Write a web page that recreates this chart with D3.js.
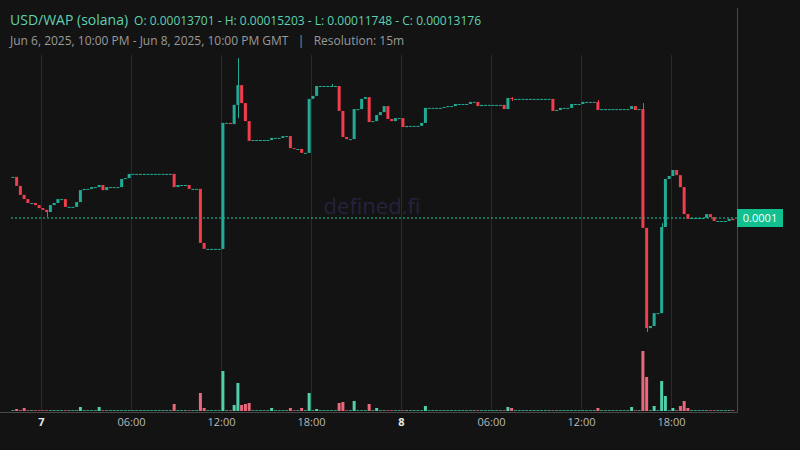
<!DOCTYPE html>
<html>
<head>
<meta charset="utf-8">
<script src="https://cdn.jsdelivr.net/npm/d3@7"></script>
<style>
  body { margin: 0; background: #131313; }
  svg { display: block; font-family: "Open Sans", "Noto Sans", sans-serif; }
</style>
</head>
<body>
<div id="chart"></div>
<script>
var width = 800, height = 450;

// 15m candles, Jun 6 22:00 -> Jun 8 22:00 GMT, prices in units of 1e-6
var closes = [
  113.7, 110.7, 107.7, 106.3, 105.0, 105.0, 104.3, 103.3, 102.7, 102.0,   // 0-9
  104.3, 105.0, 106.3, 106.3, 103.7, 103.7, 103.7, 105.3, 109.3, 109.7,   // 10-19
  109.7, 110.3, 110.3, 111.0, 109.3, 110.3, 110.3, 110.3, 110.3, 113.0,   // 20-29
  113.3, 114.7, 114.7, 114.7, 114.7, 114.7, 114.7, 114.7, 114.7, 114.7,   // 30-39
  114.7, 114.7, 114.7, 110.3, 111.0, 111.0, 111.0, 109.7, 109.7, 109.7,   // 40-49
  91.7, 89.7, 89.7, 89.7, 89.7, 89.7, 131.7, 131.7, 131.3, 137.7,         // 50-59
  144.3, 138.3, 132.3, 125.7, 126.0, 126.0, 126.0, 126.0, 126.0, 126.7,   // 60-69
  126.7, 126.7, 127.3, 127.3, 123.3, 123.0, 123.0, 121.7, 121.7, 139.7,   // 70-79
  140.7, 144.0, 144.0, 144.0, 144.0, 144.0, 144.0, 135.7, 127.0, 126.3,   // 80-89
  126.3, 136.3, 136.3, 139.7, 140.3, 132.0, 132.3, 134.3, 135.3, 137.3,   // 90-99
  133.0, 132.3, 133.3, 133.3, 130.3, 130.7, 130.7, 130.7, 130.7, 131.7,   // 100-109
  136.7, 136.7, 136.7, 136.7, 136.7, 137.0, 137.3, 137.3, 138.0, 138.0,   // 110-119
  138.0, 138.0, 138.7, 138.7, 137.3, 137.7, 137.7, 137.7, 137.7, 137.7,   // 120-129
  137.7, 136.3, 140.0, 139.7, 139.7, 139.7, 139.7, 139.7, 139.7, 139.7,   // 130-139
  139.7, 139.7, 139.7, 139.7, 135.7, 136.0, 136.7, 136.7, 136.7, 138.0,   // 140-149
  138.0, 138.0, 138.7, 138.7, 138.7, 138.7, 136.0, 136.3, 136.3, 136.3,   // 150-159
  136.3, 136.3, 136.3, 136.3, 136.3, 137.3, 136.0, 136.3, 96.7, 63.3,     // 160-169
  64.0, 68.3, 68.3, 97.0, 113.0, 114.0, 116.0, 114.3, 110.3, 101.3,       // 170-179
  99.7, 100.0, 100.0, 100.0, 100.0, 101.3, 100.3, 99.0, 99.0, 99.0,       // 180-189
  99.0, 99.7, 99.3                                                         // 190-192
];
var firstOpen = 113.7;

// extra wicks: index -> [high, low]
var wicks = { 9: [102.7, 100.3], 60: [153.3, 133.3], 85: [144.7, 144.0], 133: [140.3, 139.0],
              156: [139.3, 136.0], 168: [138.3, 96.7], 169: [96.7, 62.0], 173: [98.3, 68.3] };

// volume spikes: index -> volume (others small)
var volSpikes = { 1: 2, 3: 3, 18: 4, 23: 4, 43: 7, 50: 18, 51: 3, 56: 40, 59: 6, 60: 28, 61: 6,
  62: 7, 63: 8, 69: 3, 74: 3, 77: 3, 79: 18, 81: 2, 87: 8, 88: 9, 91: 10, 95: 7, 97: 3,
  110: 5, 132: 4, 133: 3, 156: 3, 165: 4, 168: 60, 169: 34, 171: 5, 173: 30, 174: 15,
  176: 3, 178: 5, 179: 10, 180: 3 };
var baseVol = 0.7;

var tickHours = [0, 6, 12, 18];

var start = Date.UTC(2025, 5, 6, 22, 0);
var step = 15 * 60 * 1000;

var data = closes.map(function(c, i) {
  var o = i === 0 ? firstOpen : closes[i - 1];
  var w = wicks[i];
  return {
    t: new Date(start + i * step),
    o: o, c: c,
    h: w ? Math.max(w[0], o, c) : Math.max(o, c),
    l: w ? Math.min(w[1], o, c) : Math.min(o, c),
    v: volSpikes[i] || baseVol
  };
});

var svg = d3.select("#chart").append("svg")
  .attr("width", width).attr("height", height);
svg.append("rect").attr("width", width).attr("height", height).attr("fill", "#131313");

var x = d3.scaleUtc()
  .domain([new Date(start), new Date(start + 193 * step)])
  .range([11, 734.75]);
var y = d3.scaleLinear().domain([60, 160]).range([338, 38]);
var yv = d3.scaleLinear().domain([0, 60]).range([411, 351]);

var bw = 3;
var up = "#22ab94", down = "#f23d4c";
var upV = "#4fcfaa", downV = "#e9697c";

// vertical gridlines
var ticks = x.ticks(d3.utcHour.every(6));
svg.selectAll(".grid").data(ticks).enter().append("line")
  .attr("x1", function(d) { return Math.round(x(d)) + 0.5; })
  .attr("x2", function(d) { return Math.round(x(d)) + 0.5; })
  .attr("y1", 55).attr("y2", 411)
  .attr("stroke", "#2a2a2a");

// right border & bottom
svg.append("line").attr("x1", 737.5).attr("x2", 737.5).attr("y1", 8).attr("y2", 412)
  .attr("stroke", "#4a4a4a");
svg.append("line").attr("x1", 0).attr("x2", 738).attr("y1", 412.5).attr("y2", 412.5)
  .attr("stroke", "#4a4a4a");

// watermark
svg.append("text").attr("x", 372).attr("y", 214).attr("text-anchor", "middle")
  .attr("font-size", 22).attr("fill", "#25223c").text("defined.fi");

// volume
svg.selectAll(".vol").data(data).enter().append("rect")
  .attr("x", function(d) { return x(d.t) + 0.4; })
  .attr("width", bw)
  .attr("y", function(d) { return yv(d.v); })
  .attr("height", function(d) { return yv(0) - yv(d.v); })
  .attr("fill", function(d) { return d.c < d.o ? downV : upV; });

// price line
svg.append("line").attr("x1", 11).attr("x2", 737).attr("y1", y(100)).attr("y2", y(100))
  .attr("stroke", "#1fc99a").attr("stroke-dasharray", "2,2");

// wicks
svg.selectAll(".wick").data(data.filter(function(d) { return d.h > Math.max(d.o, d.c) || d.l < Math.min(d.o, d.c); }))
  .enter().append("line")
  .attr("x1", function(d) { return Math.round(x(d.t) + 1.9) + 0.5; })
  .attr("x2", function(d) { return Math.round(x(d.t) + 1.9) + 0.5; })
  .attr("y1", function(d) { return y(d.h); })
  .attr("y2", function(d) { return y(d.l); })
  .attr("stroke", function(d) { return d.c < d.o ? down : up; });

// bodies
svg.selectAll(".body").data(data).enter().append("rect")
  .attr("x", function(d) { return x(d.t) + 0.4; })
  .attr("width", bw)
  .attr("y", function(d) { return y(Math.max(d.o, d.c)); })
  .attr("height", function(d) { return Math.max(1, Math.abs(y(d.o) - y(d.c))); })
  .attr("fill", function(d) { return d.c < d.o ? down : up; });

// price label
svg.append("rect").attr("x", 737).attr("y", 209).attr("width", 46).attr("height", 18)
  .attr("fill", "#10c08f");
svg.append("text").attr("x", 760).attr("y", 222).attr("text-anchor", "middle")
  .attr("font-size", 11).attr("fill", "#ffffff").text("0.0001");

// x axis
var xAxis = d3.axisBottom(x).tickValues(ticks).tickSize(0).tickPadding(0)
  .tickFormat(function(d) {
    return d.getUTCHours() === 0 ? String(d.getUTCDate()) : d3.utcFormat("%H:%M")(d);
  });
var gx = svg.append("g").attr("transform", "translate(0,418)").call(xAxis);
gx.select(".domain").remove();
gx.selectAll("text")
  .attr("font-size", 11)
  .attr("fill", function(d) { return d.getUTCHours() === 0 ? "#e8e8e8" : "#b8b8b8"; })
  .attr("font-weight", function(d) { return d.getUTCHours() === 0 ? "bold" : "normal"; })
  .attr("font-family", "'Open Sans', sans-serif");

// header
var t = svg.append("text").attr("x", 10).attr("y", 25).attr("fill", "#5fd0b0");
t.append("tspan").attr("font-size", 14).text("USD/WAP (solana)");
t.append("tspan").attr("font-size", 12).attr("dx", 6)
  .text("O: 0.00013701 - H: 0.00015203 - L: 0.00011748 - C: 0.00013176");
svg.append("text").attr("x", 10).attr("y", 45).attr("font-size", 12).attr("fill", "#9a9a9a")
  .attr("xml:space", "preserve")
  .text("Jun 6, 2025, 10:00 PM - Jun 8, 2025, 10:00 PM GMT   |   Resolution: 15m");
</script>
</body>
</html>
